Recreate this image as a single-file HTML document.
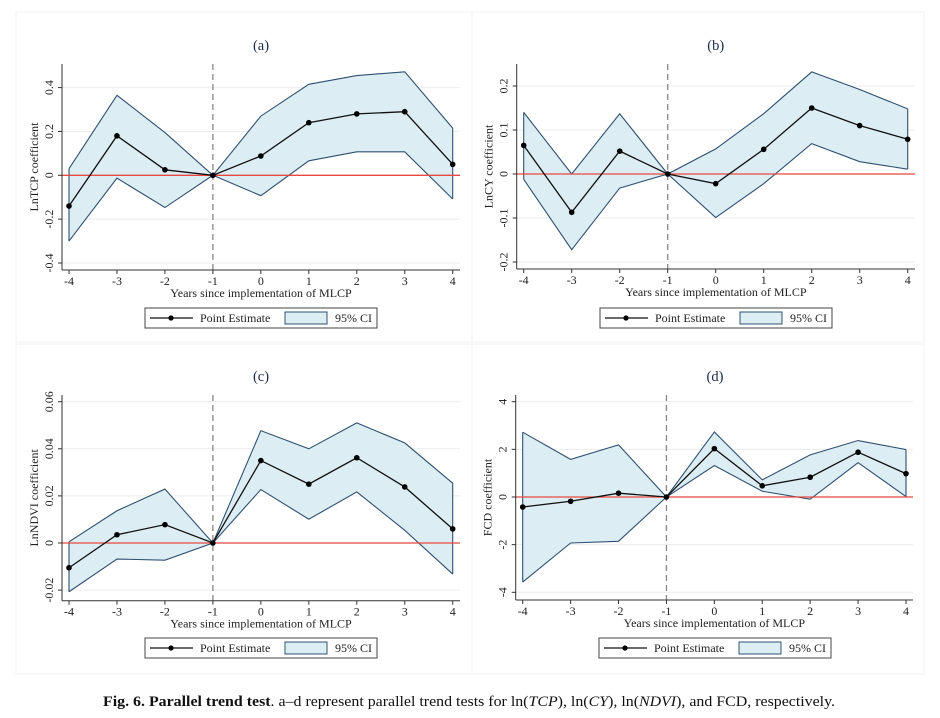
<!DOCTYPE html>
<html><head><meta charset="utf-8">
<style>
html,body{margin:0;padding:0;background:#fff;}
svg{display:block;}
text{font-family:"Liberation Serif",serif;}
</style></head>
<body>
<svg id="fig" width="940" height="718" viewBox="0 0 940 718">
  <rect x="16" y="12" width="456" height="330" fill="none" stroke="#f2f2f2"/>
  <rect x="472" y="12" width="452" height="330" fill="none" stroke="#f2f2f2"/>
  <rect x="16" y="344" width="456" height="330" fill="none" stroke="#f2f2f2"/>
  <rect x="472" y="344" width="452" height="330" fill="none" stroke="#f2f2f2"/>
  <text x="103" y="706" textLength="732" lengthAdjust="spacingAndGlyphs" font-size="15" fill="#111"><tspan font-weight="bold">Fig. 6.  Parallel trend test</tspan>. a–d represent parallel trend tests for ln(<tspan font-style="italic">TCP</tspan>), ln(<tspan font-style="italic">CY</tspan>), ln(<tspan font-style="italic">NDVI</tspan>), and FCD, respectively.</text>
</svg>
<script>
const years = [-4,-3,-2,-1,0,1,2,3,4];
const estA = [-0.14,0.18,0.025,0,0.088,0.24,0.28,0.29,0.05];
const upA  = [0.03,0.365,0.195,0,0.27,0.415,0.455,0.472,0.215];
const loA  = [-0.30,-0.013,-0.147,0,-0.093,0.066,0.107,0.107,-0.108];
const ticksA = ["-0.4","-0.2","0","0.2","0.4"];
const estB = [0.065,-0.087,0.052,0,-0.022,0.056,0.15,0.11,0.079];
const upB  = [0.14,0.0,0.137,0,0.057,0.137,0.232,0.192,0.148];
const loB  = [-0.012,-0.172,-0.032,0,-0.099,-0.022,0.069,0.028,0.011];
const ticksB = ["-0.2","-0.1","0","0.1","0.2"];
const estC = [-0.0105,0.0035,0.0078,0,0.035,0.025,0.0362,0.0238,0.006];
const upC  = [0.0005,0.0137,0.0229,0,0.0477,0.0400,0.0510,0.0425,0.0254];
const loC  = [-0.0207,-0.0068,-0.0073,0,0.0227,0.0101,0.0217,0.0054,-0.0132];
const ticksC = ["-0.02","0","0.02","0.04","0.06"];
const estD = [-0.42,-0.18,0.16,0,2.03,0.47,0.83,1.88,0.98];
const upD  = [2.72,1.58,2.19,0,2.73,0.72,1.77,2.37,1.99];
const loD  = [-3.57,-1.93,-1.86,0,1.32,0.24,-0.09,1.44,0.02];
const ticksD = ["-4","-2","0","2","4"];

const NS="http://www.w3.org/2000/svg";
const svg=document.getElementById('fig');
function mk(tag,attrs,parent){const e=document.createElementNS(NS,tag);for(const k in attrs)e.setAttribute(k,attrs[k]);(parent||svg).appendChild(e);return e;}

function panel(p){
  const g=mk('g',{});
  
  
  const xs=v=>p.x0+(v-years[0])*(p.x1-p.x0)/(years[years.length-1]-years[0]);
  const ys=v=>p.yZero-v*p.pxPer;
  p.ticks.forEach(t=>{
    const v=parseFloat(t),y=ys(v);
    const gl=mk('line',{x1:p.axL,x2:p.axR,y1:y,y2:y,stroke:'#ececec','stroke-width':1},g);
    
    
    mk('line',{x1:p.axL-4,x2:p.axL,y1:y,y2:y,stroke:'#333'},g);
    const tx=mk('text',{x:0,y:0,transform:`translate(${p.axL-9},${y}) rotate(-90)`,'text-anchor':'middle','font-size':12,fill:'#222'},g);
    tx.textContent=t;
    
    
  });
  let d='M'+years.map((yr,i)=>xs(yr)+','+ys(p.up[i])).join('L');
  for(let i=years.length-1;i>=0;i--) d+='L'+xs(years[i])+','+ys(p.lo[i]);
  const area=mk('path',{d:d+'Z',fill:'#dcedf3',stroke:'none'},g);
  
  
  const pl=(arr)=>years.map((yr,i)=>xs(yr)+','+ys(arr[i])).join(' ');
  const ub=mk('polyline',{points:pl(p.up),fill:'none',stroke:'#2f5070','stroke-width':1.1},g);
  
  
  const lb=mk('polyline',{points:pl(p.lo),fill:'none',stroke:'#2f5070','stroke-width':1.1},g);
  
  
  mk('line',{x1:xs(years[0]),x2:xs(years[0]),y1:ys(p.up[0]),y2:ys(p.lo[0]),stroke:'#2f5070','stroke-width':1.1},g);
  mk('line',{x1:xs(years[8]),x2:xs(years[8]),y1:ys(p.up[8]),y2:ys(p.lo[8]),stroke:'#2f5070','stroke-width':1.1},g);
  const zl=mk('line',{x1:p.axL,x2:p.axR,y1:ys(0),y2:ys(0),stroke:'#e8483f','stroke-width':1.3},g);
  
  
  const vl=mk('line',{x1:xs(-1),x2:xs(-1),y1:p.axT,y2:p.axB,stroke:'#888','stroke-width':1.3,'stroke-dasharray':'6,4'},g);
  
  
  const el=mk('polyline',{points:pl(p.est),fill:'none',stroke:'#111','stroke-width':1.3},g);
  
  
  years.forEach((yr,i)=>{
    const c=mk('circle',{cx:xs(yr),cy:ys(p.est[i]),r:2.8,fill:'#000'},g);
    
    
  });
  mk('line',{x1:p.axL,x2:p.axL,y1:p.axT,y2:p.axB,stroke:'#333'},g);
  mk('line',{x1:p.axL,x2:p.axR,y1:p.axB,y2:p.axB,stroke:'#333'},g);
  years.forEach(yr=>{
    const x=xs(yr);
    mk('line',{x1:x,x2:x,y1:p.axB,y2:p.axB+4,stroke:'#333'},g);
    const t=mk('text',{x:x,y:p.axB+15,'text-anchor':'middle','font-size':12,fill:'#222'},g);
    t.textContent=String(yr);
    
    
  });
  const cx=(p.axL+p.axR)/2;
  const xt=mk('text',{x:cx,y:p.axB+27,'text-anchor':'middle','font-size':12,fill:'#222'},g);
  xt.textContent='Years since implementation of MLCP';
  
  
  const yt=mk('text',{x:0,y:0,transform:`translate(${p.axL-24},${(p.axT+p.axB)/2}) rotate(-90)`,'text-anchor':'middle','font-size':12,fill:'#222'},g);
  yt.textContent=p.ytitle;
  
  
  const tt=mk('text',{x:p.titleX,y:p.titleY,'text-anchor':'middle','font-size':14.5,fill:'#1a2a4a'},g);
  tt.textContent='('+p.id+')';
  
  
  const lx=p.legX,ly=p.legY;
  const lg=mk('g',{},g);
  
  
  mk('rect',{x:lx,y:ly,width:232,height:20,fill:'#fff',stroke:'#444'},lg);
  mk('line',{x1:lx+5,x2:lx+48,y1:ly+10,y2:ly+10,stroke:'#111','stroke-width':1.3},lg);
  mk('circle',{cx:lx+26,cy:ly+10,r:2.6,fill:'#000'},lg);
  const l1=mk('text',{x:lx+55,y:ly+14,'font-size':12,fill:'#222'},lg);
  l1.textContent='Point Estimate';
  
  
  mk('rect',{x:lx+140,y:ly+4,width:42,height:12,fill:'#dcedf3',stroke:'#2f5070'},lg);
  const l2=mk('text',{x:lx+190,y:ly+14,'font-size':12,fill:'#222'},lg);
  l2.textContent='95% CI';
  
  
}
panel({id:'a',est:estA,up:upA,lo:loA,ticks:ticksA,ytitle:'LnTCP coefficient',
  x0:69,x1:452.7,yZero:175.3,pxPer:87.7/0.4,axL:62,axR:460,axT:64,axB:270,titleX:261,titleY:50,legX:145,legY:308});
panel({id:'b',est:estB,up:upB,lo:loB,ticks:ticksB,ytitle:'LnCY coefficient',
  x0:523.7,x1:907.7,yZero:174,pxPer:88/0.2,axL:516.7,axR:915,axT:64,axB:269,titleX:715.7,titleY:50,legX:600,legY:308});
panel({id:'c',est:estC,up:upC,lo:loC,ticks:ticksC,ytitle:'LnNDVI coefficient',
  x0:69,x1:452.7,yZero:543,pxPer:47.1/0.02,axL:62,axR:460,axT:395,axB:600.7,titleX:261,titleY:381,legX:145,legY:638});
panel({id:'d',est:estD,up:upD,lo:loD,ticks:ticksD,ytitle:'FCD coefficient',
  x0:522.7,x1:906,yZero:497,pxPer:95.3/4,axL:515.7,axR:913,axT:395,axB:600,titleX:715,titleY:381,legX:599,legY:638});
</script>
</body></html>
